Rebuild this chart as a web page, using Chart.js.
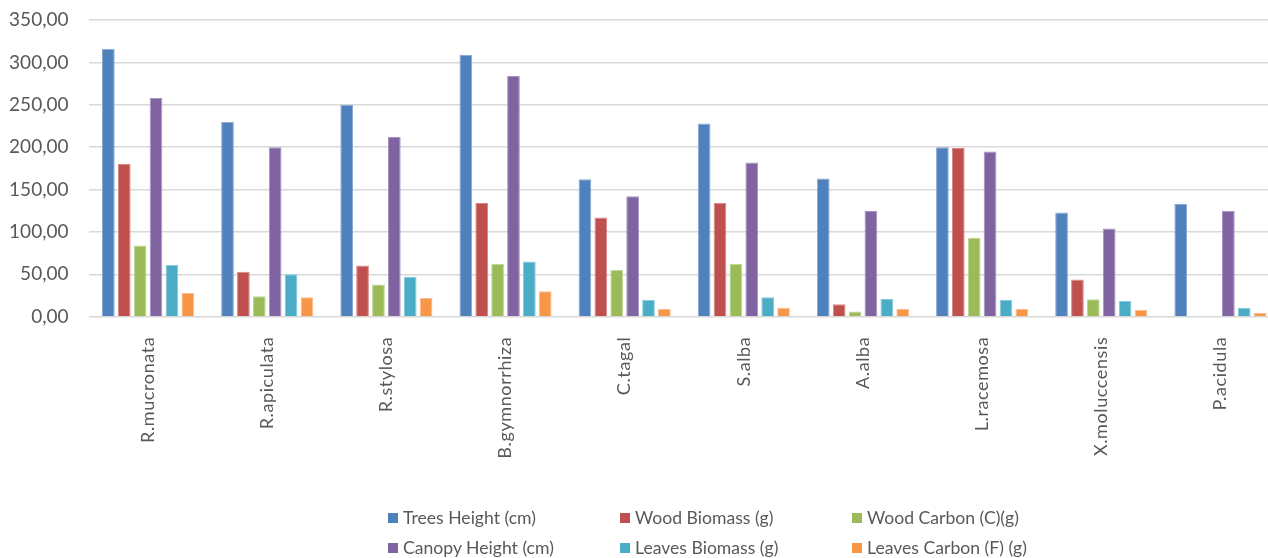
<!DOCTYPE html>
<html>
<head>
<meta charset="utf-8">
<script src="https://cdn.jsdelivr.net/npm/chart.js@4.4.1/dist/chart.umd.min.js"></script>
<style>
  html, body { margin: 0; padding: 0; background: #fff; overflow: hidden; width: 1268px; height: 558px; }
  #wrap { position: absolute; left: 0; top: 0; width: 1280px; height: 558px; }
  #legend { position: absolute; left: 0; top: 0; width: 1268px; height: 558px; pointer-events: none;
            font-family: Lato, sans-serif; font-size: 17.6px; color: #595959; }
  .item { position: absolute; white-space: nowrap; height: 20px; line-height: 20px; }
  .sw { position: absolute; left: 0; top: 5px; width: 10px; height: 10px; }
  .lbl { position: absolute; left: 15px; top: 0; }
</style>
</head>
<body>
<div id="wrap"><canvas id="c" width="1280" height="558"></canvas></div>
<div id="legend"></div>
<script>
// Species measured
const categories = ['R.mucronata', 'R.apiculata', 'R.stylosa', 'B.gymnorrhiza', 'C.tagal',
                    'S.alba', 'A.alba', 'L.racemosa', 'X.moluccensis', 'P.acidula'];

// Series values, one per species
const treesHeight   = [316, 230, 250, 309, 162, 228, 163, 200, 123, 133];
const woodBiomass   = [180, 53, 60.5, 134, 117, 134, 14.6, 199, 44, 0];
const woodCarbon    = [84, 24, 38, 62.5, 55, 62.5, 6, 93, 20.5, 0];
const canopyHeight  = [258, 200, 212, 284, 142, 182, 124.6, 195, 104, 125];
const leavesBiomass = [61, 50, 47, 65, 20, 23, 21, 20, 18.5, 10.6];
const leavesCarbon  = [28, 23, 22, 30, 9, 10.6, 9.4, 9, 8, 4.4];

const seriesNames = ['Trees Height (cm)', 'Wood Biomass (g)', 'Wood Carbon (C)(g)',
                     'Canopy Height (cm)', 'Leaves Biomass (g)', 'Leaves Carbon (F) (g)'];
const seriesColors = ['#4F81BD', '#C0504D', '#9BBB59', '#8064A2', '#4BACC6', '#F79646'];
const seriesEdges  = ['#8aa9d3', '#d68a88', '#bfd496', '#a893c0', '#88cadb', '#f9bd91'];
const seriesValues = [treesHeight, woodBiomass, woodCarbon, canopyHeight, leavesBiomass, leavesCarbon];

// Value axis range
const yMin = 0, yMax = 350, yStep = 50;

const TEXT = '#595959';
const GRID = '#d9d9d9';

// Slightly open category labels: x tick labels are drawn after the bars, so
// letter spacing is switched on only for that pass.
const spacedLabels = {
  id: 'spacedLabels',
  afterDatasetsDraw(chart) { chart.ctx.letterSpacing = '0.6px'; },
  afterDraw(chart) { chart.ctx.letterSpacing = '0px'; }
};

new Chart(document.getElementById('c'), {
  type: 'bar',
  data: {
    labels: categories,
    datasets: seriesValues.map((vals, i) => ({
      label: seriesNames[i],
      data: vals,
      backgroundColor: seriesColors[i],
      borderColor: seriesEdges[i],
      borderWidth: 1,
      categoryPercentage: 0.8,
      barPercentage: 0.8
    }))
  },
  options: {
    responsive: false,
    animation: false,
    devicePixelRatio: 1,
    layout: { padding: { top: 20, left: 0, right: 0, bottom: 0 } },
    plugins: { legend: { display: false }, tooltip: { enabled: false } },
    scales: {
      x: {
        grid: { display: false },
        border: { display: false },
        ticks: {
          z: 1,
          color: TEXT,
          font: { family: 'Lato', size: 18 },
          minRotation: 90, maxRotation: 90,
          autoSkip: false,
          padding: 12
        },
        afterFit(s) { s.height = 558 - 316.7; }
      },
      y: {
        min: yMin, max: yMax,
        grid: { color: GRID, lineWidth: 1.5, drawTicks: false },
        border: { display: false },
        ticks: {
          stepSize: yStep,
          color: TEXT,
          font: { family: 'Lato', size: 19 },
          padding: 20,
          callback: v => v.toFixed(2).replace('.', ',')
        },
        afterFit(s) { s.width = 88.5; s.paddingTop = 0; s.paddingBottom = 0; }
      }
    }
  },
  plugins: [spacedLabels]
});

// Legend: two rows of three entries
const legend = document.getElementById('legend');
const colLeft = [388, 620, 852];
const rowTop = [508, 538];
seriesNames.forEach((name, i) => {
  const item = document.createElement('div');
  item.className = 'item';
  item.style.left = colLeft[i % 3] + 'px';
  item.style.top = rowTop[Math.floor(i / 3)] + 'px';
  const sw = document.createElement('div');
  sw.className = 'sw';
  sw.style.background = seriesColors[i];
  const lbl = document.createElement('span');
  lbl.className = 'lbl';
  lbl.textContent = name;
  item.appendChild(sw);
  item.appendChild(lbl);
  legend.appendChild(item);
});
</script>
</body>
</html>
